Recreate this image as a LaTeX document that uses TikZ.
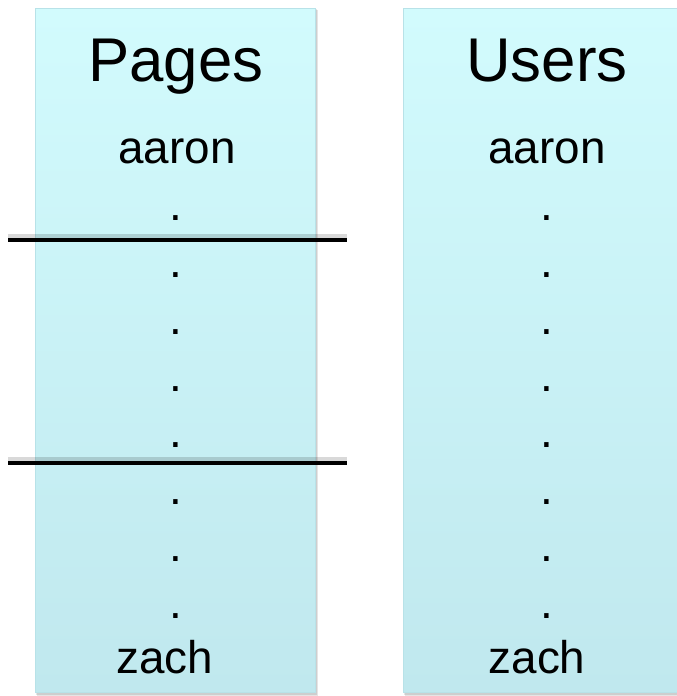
\documentclass[tikz,border=0pt]{standalone}
\usepackage{fontspec}
\setmainfont{Liberation Sans}
\definecolor{boxtop}{HTML}{D2FBFD}
\definecolor{boxbot}{HTML}{C0E8EE}
\definecolor{boxedge}{HTML}{B8E2E8}
\begin{document}
\begin{tikzpicture}[x=1bp,y=-1bp,
  col/.style={draw=boxedge, line width=1bp, top color=boxtop, bottom color=boxbot},
  shade1/.style={fill=black, opacity=0.10},
  title/.style={font=\fontsize{62}{62}\selectfont, anchor=base, inner sep=0pt},
  word/.style={font=\fontsize{46}{46}\selectfont, anchor=base, inner sep=0pt},
  dotn/.style={font=\fontsize{46}{46}\selectfont, inner sep=0pt},
  cut/.style={line width=4.5bp, black},
  cutshadow/.style={line width=6bp, black, opacity=0.15}]
\useasboundingbox (0,0) rectangle (677,696);
% shadows of columns
\fill[shade1] (37,10) rectangle (318,696);
\fill[shade1] (36,9) rectangle (316.5,694.5);
\fill[shade1] (405,10) rectangle (680,696);
\fill[shade1] (404,9) rectangle (680,694.5);
% columns
\node[col, minimum width=280bp, minimum height=684bp, anchor=north west, inner sep=0pt] (pages) at (35,8) {};
\node[col, minimum width=280bp, minimum height=684bp, anchor=north west, inner sep=0pt] (users) at (403,8) {};
% texts
\node[title] (ptitle) at (176,82) {Pages};
\node[title] (utitle) at (547,82) {Users};
\node[word] (pfirst) at (177,163) {aaron};
\node[word] (ufirst) at (547,163) {aaron};
\node[word] (plast) at (165,673) {zach};
\node[word] (ulast) at (537,673) {zach};
\foreach \y [count=\i] in {218,275,332,389,445,502,559,616}{
  \node[dotn] (pd\i) at (176,\y) {.};
  \node[dotn] (ud\i) at (547,\y) {.};
}
% cut lines
\coordinate (c1a) at (8,240);
\coordinate (c1b) at (347,240);
\coordinate (c2a) at (8,463);
\coordinate (c2b) at (347,463);
\draw[cutshadow] ([yshift=3]c1a) -- ([yshift=3]c1b);
\draw[cutshadow] ([yshift=3]c2a) -- ([yshift=3]c2b);
\draw[cut] (c1a) -- (c1b);
\draw[cut] (c2a) -- (c2b);
\end{tikzpicture}
\end{document}
